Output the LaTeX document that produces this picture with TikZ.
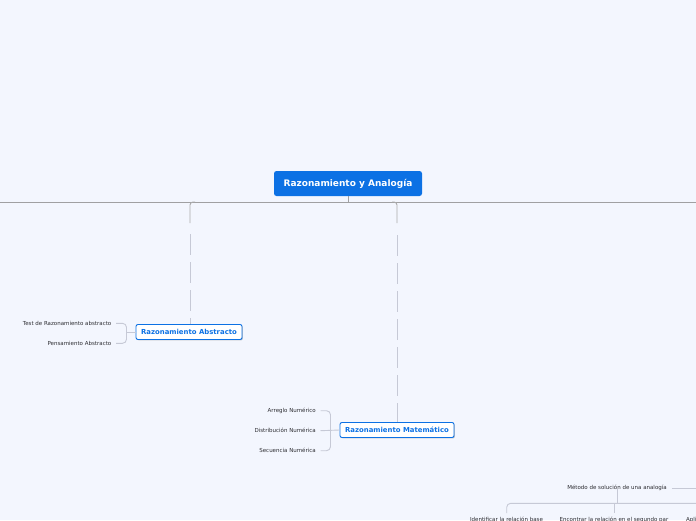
\documentclass[tikz,border=0pt]{standalone}
\usepackage{fontspec}
\setmainfont{DejaVu Sans}
\usetikzlibrary{shadows}
\definecolor{bg}{RGB}{243,246,254}
\definecolor{mainblue}{RGB}{12,113,228}
\definecolor{hline}{RGB}{160,160,162}
\definecolor{conn}{RGB}{198,201,214}
\definecolor{txt}{RGB}{45,45,50}
\tikzset{
  rootbox/.style={draw=none, fill=mainblue, rounded corners=2.5pt, text=white,
    font=\fontsize{9}{10}\selectfont\bfseries, minimum width=148pt, minimum height=25pt, inner sep=0pt},
  subbox/.style={draw=mainblue, line width=0.9pt, fill=white, rounded corners=2pt, text=mainblue,
    font=\fontsize{6.9}{8}\selectfont\bfseries, minimum height=15pt, inner sep=0pt,
    drop shadow={shadow xshift=0.9pt, shadow yshift=-0.9pt, opacity=0.35, fill=black!60}},
  leaf/.style={text=txt, font=\fontsize{5.5}{6.5}\selectfont, inner sep=0pt},
  mainline/.style={draw=hline, line width=0.9pt},
  topconn/.style={draw=hline!90, line width=0.9pt, rounded corners=3pt},
  dashconn/.style={draw=conn, line width=0.9pt, dash pattern=on 21pt off 7pt},
  bracket/.style={draw=conn, line width=0.9pt, rounded corners=4pt},
}
\begin{document}
\begin{tikzpicture}[x=1pt,y=-1pt]
\fill[bg] (0,0) rectangle (696,520);
\useasboundingbox (0,0) rectangle (696,520);
\clip (0,0) rectangle (696,520);

% root
\node[rootbox] (root) at (348,183.5) {Razonamiento y Analogía};
\coordinate (hl) at (0,202);
\coordinate (hr) at (696,202);
\draw[mainline] (hl) -- (hr);
\coordinate (rootj) at (348,202);
\draw[mainline] (root.south) -- (rootj);

% sub nodes
\node[subbox, minimum width=106pt] (abs) at (189,332) {Razonamiento Abstracto};
\node[subbox, minimum width=114pt] (mat) at (397,430) {Razonamiento Matemático};

% connectors to sub nodes
\coordinate (aj0) at (195,202);
\coordinate (aj1) at (190,202);
\coordinate (aj2) at (190,223);
\coordinate (aj3) at (190,234);
\draw[topconn] (aj0) -- (aj1) -- (aj2);
\draw[dashconn] (aj3) -- (abs.north -| aj3);

\coordinate (mj0) at (392,202);
\coordinate (mj1) at (397,202);
\coordinate (mj2) at (397,223);
\coordinate (mj3) at (397,235);
\draw[topconn] (mj0) -- (mj1) -- (mj2);
\draw[dashconn] (mj3) -- (mat.north -| mj3);

% Abstracto leaves
\node[leaf, anchor=east] (a1) at (111.5,323.3) {Test de Razonamiento abstracto};
\node[leaf, anchor=east] (a2) at (111.5,343.3) {Pensamiento Abstracto};
\coordinate (ab) at (126.5,332);
\draw[bracket] (abs.west) -- (ab);
\draw[bracket] (116,323.3) -- (126.5,323.3) -- (126.5,343.3) -- (116,343.3);

% Matematico leaves
\node[leaf, anchor=east] (m1) at (316,410.7) {Arreglo Numérico};
\node[leaf, anchor=east] (m2) at (316,430.7) {Distribución Numérica};
\node[leaf, anchor=east] (m3) at (316,450.7) {Secuencia Numérica};
\coordinate (mb) at (320.5,430.7);
\draw[bracket] (mat.west) -- (mb);
\draw[bracket] (320.5,410.7) -- (330.5,410.7) -- (330.5,450.7) -- (320.5,450.7);

% bottom part
\node[leaf] (met) at (617,488.3) {Método de solución de una analogía};
\coordinate (metr) at (696,488.3);
\draw[bracket] ([xshift=5pt]met.east) -- (metr);
\coordinate (mj) at (617,503.3);
\draw[bracket] ([yshift=2.5pt]met.south) -- (mj);
\node[leaf, anchor=base] (b1) at (506.5,521.8) {Identificar la relación base};
\node[leaf, anchor=base] (b2) at (614,521.8) {Encontrar la relación en el segundo par};
\node[leaf, anchor=base west] (b3) at (686,521.8) {Aplicar};
\draw[bracket] (506.7,513) -- (506.7,503.3) -- (696,503.3);
\draw[bracket] (614.3,503.3) -- (614.3,513);
\end{tikzpicture}
\end{document}
